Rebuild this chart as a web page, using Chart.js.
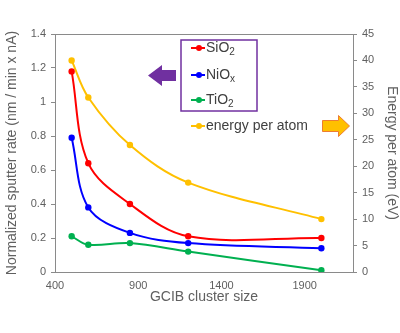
<!DOCTYPE html>
<html>
<head>
<meta charset="utf-8">
<script src="https://cdn.jsdelivr.net/npm/chart.js@4"></script>
<style>html,body{margin:0;padding:0;background:#fff}</style>
</head>
<body>
<canvas id="graficoSputter" width="400" height="333"></canvas>
<script>
// valores
const clusterSize = [500, 600, 850, 1200, 2000];
const sio2Rate = [1.18, 0.64, 0.40, 0.21, 0.20];
const nioxRate = [0.79, 0.38, 0.23, 0.17, 0.14];
const tio2Rate = [0.21, 0.16, 0.17, 0.12, 0.01];
const energyPerAtom = [40, 33, 24, 16.9, 10];
const xTicks = [400, 900, 1400, 1900];

const cinza = '#606060';
const eixo = '#8a8a8a';
const fonte = 'Liberation Sans, Arial, sans-serif';

function pontos(valores) {
    return clusterSize.map((x, i) => ({ x: x, y: valores[i] }));
}

function serie(label, valores, cor, eixoY) {
    return {
        label: label,
        data: pontos(valores),
        borderColor: cor,
        backgroundColor: cor,
        borderWidth: 2,
        pointRadius: 3.2,
        pointBorderWidth: 0,
        pointHoverRadius: 3.2,
        tension: 0.35,
        yAxisID: eixoY
    };
}

function escreverComSub(ctx, partes, x, y) {
    let cx = x;
    partes.forEach((p) => {
        ctx.font = (p.sub ? '10px ' : '14px ') + fonte;
        ctx.fillText(p.t, cx, y + (p.sub ? 4 : 0));
        cx += ctx.measureText(p.t).width;
    });
}

const legendaSetas = {
    id: 'legendaSetas',
    afterDatasetsDraw(chart) {
        const ctx = chart.ctx;
        const area = chart.chartArea;
        ctx.save();

        // moldura superior
        ctx.strokeStyle = eixo;
        ctx.lineWidth = 1;
        ctx.beginPath();
        ctx.moveTo(area.left, area.top + 0.5);
        ctx.lineTo(area.right, area.top + 0.5);
        ctx.stroke();

        // caixa da legenda
        ctx.fillStyle = '#fff';
        ctx.fillRect(181, 40, 76, 71);
        ctx.strokeStyle = '#7030a0';
        ctx.lineWidth = 1.5;
        ctx.strokeRect(181, 40, 76, 71);

        const itens = [
            { ds: 0, y: 48, partes: [{ t: 'SiO' }, { t: '2', sub: true }] },
            { ds: 1, y: 75, partes: [{ t: 'NiO' }, { t: 'x', sub: true }] },
            { ds: 2, y: 100, partes: [{ t: 'TiO' }, { t: '2', sub: true }] },
            { ds: 3, y: 126, partes: [{ t: 'energy per atom' }] }
        ];
        itens.forEach((item) => {
            const cor = chart.data.datasets[item.ds].borderColor;
            ctx.strokeStyle = cor;
            ctx.fillStyle = cor;
            ctx.lineWidth = 2;
            ctx.beginPath();
            ctx.moveTo(191, item.y);
            ctx.lineTo(205, item.y);
            ctx.stroke();
            ctx.beginPath();
            ctx.arc(199, item.y, 3, 0, Math.PI * 2);
            ctx.fill();
            ctx.fillStyle = '#404040';
            ctx.textBaseline = 'middle';
            escreverComSub(ctx, item.partes, 206, item.y);
        });

        // seta roxa para a esquerda
        ctx.fillStyle = '#7030a0';
        ctx.beginPath();
        ctx.moveTo(148, 75.5);
        ctx.lineTo(162, 65);
        ctx.lineTo(162, 70);
        ctx.lineTo(176, 70);
        ctx.lineTo(176, 81);
        ctx.lineTo(162, 81);
        ctx.lineTo(162, 86);
        ctx.closePath();
        ctx.fill();

        // seta laranja para a direita
        ctx.fillStyle = '#ffc000';
        ctx.strokeStyle = '#ed7d31';
        ctx.lineWidth = 1;
        ctx.beginPath();
        ctx.moveTo(322.5, 120.5);
        ctx.lineTo(338.5, 120.5);
        ctx.lineTo(338.5, 115.5);
        ctx.lineTo(349.5, 126);
        ctx.lineTo(338.5, 136.5);
        ctx.lineTo(338.5, 131.5);
        ctx.lineTo(322.5, 131.5);
        ctx.closePath();
        ctx.fill();
        ctx.stroke();

        ctx.restore();
    }
};

const grafico = document.getElementById('graficoSputter');

new Chart(grafico, {
    type: 'line',
    data: {
        datasets: [
            serie('SiO2', sio2Rate, '#ff0000', 'y'),
            serie('NiOx', nioxRate, '#0000ff', 'y'),
            serie('TiO2', tio2Rate, '#00b050', 'y'),
            serie('energy per atom', energyPerAtom, '#ffc000', 'y1')
        ]
    },
    options: {
        responsive: false,
        animation: false,
        layout: { padding: { top: 34, left: 0, right: 0, bottom: 0 } },
        plugins: {
            legend: { display: false },
            tooltip: { enabled: false }
        },
        scales: {
            x: {
                type: 'linear',
                min: 400,
                max: 2190,
                afterBuildTicks: (scale) => { scale.ticks = xTicks.map((v) => ({ value: v })); },
                afterFit: (scale) => { scale.height = 61; },
                grid: { display: true, drawOnChartArea: false, drawTicks: false },
                border: { display: true, color: eixo, width: 1 },
                ticks: {
                    color: cinza,
                    font: { family: fonte, size: 11 },
                    padding: 7,
                    maxRotation: 0,
                    callback: (v) => String(v)
                },
                title: {
                    display: true,
                    text: 'GCIB cluster size',
                    color: cinza,
                    font: { family: fonte, size: 14 },
                    padding: { top: 0, bottom: 27 }
                }
            },
            y: {
                position: 'left',
                min: 0,
                max: 1.4,
                afterFit: (scale) => { scale.width = 55; },
                grid: { display: true, drawOnChartArea: false, drawTicks: true, tickLength: 4, color: eixo },
                border: { display: true, color: eixo, width: 1 },
                ticks: {
                    stepSize: 0.2,
                    color: cinza,
                    font: { family: fonte, size: 11 },
                    padding: 5,
                    callback: (v) => String(Number(v.toFixed(1)))
                },
                title: {
                    display: true,
                    text: 'Normalized sputter rate (nm / min x nA)',
                    color: cinza,
                    font: { family: fonte, size: 14 },
                    padding: { top: 4, bottom: 0 }
                }
            },
            y1: {
                position: 'right',
                min: 0,
                max: 45,
                afterFit: (scale) => { scale.width = 47; },
                grid: { display: true, drawOnChartArea: false, drawTicks: true, tickLength: 4, color: eixo },
                border: { display: true, color: eixo, width: 1 },
                ticks: { stepSize: 5, color: cinza, font: { family: fonte, size: 11 }, padding: 5 },
                title: {
                    display: true,
                    text: 'Energy per atom (eV)',
                    color: cinza,
                    font: { family: fonte, size: 14 },
                    padding: { top: 0, bottom: 0 }
                }
            }
        }
    },
    plugins: [legendaSetas]
});
</script>
</body>
</html>
